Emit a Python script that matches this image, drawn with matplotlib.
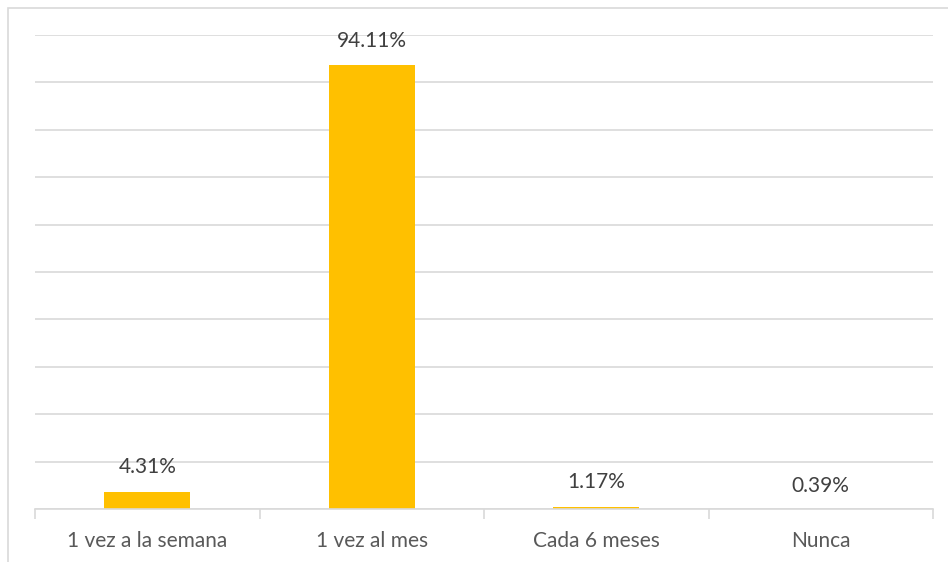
import matplotlib
matplotlib.use("Agg")
import matplotlib.pyplot as plt
import numpy as np
from matplotlib.patches import Rectangle

categories = ["1 vez a la semana", "1 vez al mes", "Cada 6 meses", "Nunca"]
values = [4.31, 94.11, 1.17, 0.39]
labels = ["4.31%", "94.11%", "1.17%", "0.39%"]

W, H = 948, 562
fig = plt.figure(figsize=(W / 100, H / 100), dpi=100)
fig.patch.set_facecolor("white")

FONT = ["Lato", "DejaVu Sans"]

# outer chart frame
fig.add_artist(Rectangle((7.5 / W, -0.1), 1.2, (H - 7.5) / H + 0.1,
                         transform=fig.transFigure, fill=False,
                         edgecolor="#D9D9D9", linewidth=1.2))

ax = fig.add_axes([35 / W, (H - 509) / H, (933 - 35) / W, (509 - 35) / H])
x = range(len(categories))
ax.bar(x, values, width=0.385, color="#FFC000", zorder=3)
ax.set_xlim(-0.5, len(categories) - 0.5)
ymin, ymax = 0.7, 100.5
ax.set_ylim(ymin, ymax)
ax.set_yticks(np.linspace(ymin, ymax, 11))
ax.yaxis.grid(True, color="#D9D9D9", linewidth=1.2, zorder=0)
ax.tick_params(axis="y", length=0, labelleft=False)
for s in ["top", "right", "left"]:
    ax.spines[s].set_visible(False)
ax.spines["bottom"].set_color("#D9D9D9")
ax.spines["bottom"].set_linewidth(1.2)
ax.spines["bottom"].set_zorder(4)

ax.set_xticks([i - 0.5 for i in range(len(categories) + 1)], minor=False)
ax.set_xticklabels([])
ax.tick_params(axis="x", which="major", length=7, color="#D9D9D9", width=1.2,
               direction="out")
ax.set_xticks(list(x), minor=True)
ax.set_xticklabels(categories, minor=True, fontsize=15, color="#595959",
                   family=FONT)
ax.tick_params(axis="x", which="minor", length=0, pad=16)

for i, (v, lab) in enumerate(zip(values, labels)):
    ax.annotate(lab, (i, v), xytext=(0, 17.6), textcoords="offset points",
                ha="center", va="center", fontsize=15, color="#404040",
                family=FONT, annotation_clip=False)

fig.savefig("out.png", dpi=100)
